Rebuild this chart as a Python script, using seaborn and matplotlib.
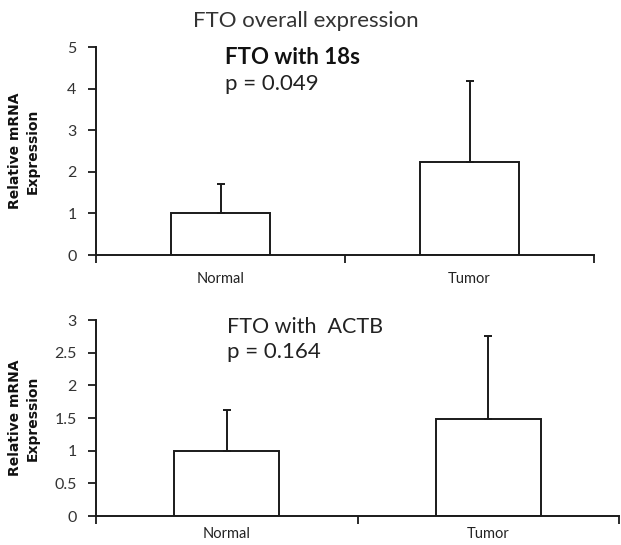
import matplotlib
matplotlib.use("Agg")
import matplotlib.pyplot as plt
import seaborn as sns
import numpy as np
import pandas as pd

# Data
categories = ["Normal", "Tumor"]
means_18s = [1.0, 2.25]
upper_18s = [1.70, 4.19]
means_actb = [1.0, 1.48]
upper_actb = [1.63, 2.76]

title_text = "FTO overall expression"
label_18s = "FTO with 18s"
p_18s = "p = 0.049"
label_actb = "FTO with  ACTB"
p_actb = "p = 0.164"
ylabel_text = "Relative mRNA\nExpression"

top_ticks = [0, 1, 2, 3, 4, 5]
bot_ticks = [0, 0.5, 1, 1.5, 2, 2.5, 3]
bot_ticklabels = ["0", "0.5", "1", "1.5", "2", "2.5", "3"]

sns.set_style("ticks")
plt.rcParams['font.family'] = ['Lato', 'DejaVu Sans']

W, H = 621, 545
fig = plt.figure(figsize=(W / 100, H / 100), dpi=100)

def px_axes(l, r, t, b):
    return fig.add_axes([l / W, 1 - b / H, (r - l) / W, (b - t) / H])

ax1 = px_axes(96, 594, 47.3, 255)
ax2 = px_axes(96, 619, 320, 516)

def draw(ax, means, upper, yticks, yticklabels, ymax, left_px, right_px, xpad):
    df = pd.DataFrame({"cat": categories, "val": means})
    sns.barplot(data=df, x="cat", y="val", ax=ax, color="white",
                edgecolor="#1a1a1a", linewidth=1.4, width=0.4,
                errorbar=None, saturation=1)
    err = np.array(upper) - np.array(means)
    ax.errorbar(np.arange(len(categories)), means,
                yerr=[np.zeros_like(err), err], fmt="none",
                ecolor="#1a1a1a", elinewidth=1.4, capsize=3, capthick=1.4)
    ax.set_xlim(-0.5, 1.5)
    ax.set_ylim(0, ymax)
    ax.set_yticks(yticks)
    ax.set_yticklabels(yticklabels)
    ax.set_xticks([0, 1])
    ax.set_xticklabels(categories)
    ax.set_xticks([-0.5, 0.5, 1.5], minor=True)
    ax.tick_params(axis="x", which="major", length=0, pad=xpad, labelsize=10.5,
                   labelcolor="#222222")
    ax.tick_params(axis="x", which="minor", length=6, width=1.3, color="#1a1a1a")
    ax.tick_params(axis="y", length=6, width=1.3, color="#1a1a1a", pad=8,
                   labelsize=11.5, labelcolor="#333333")
    for s in ["top", "right"]:
        ax.spines[s].set_visible(False)
    for s in ["left", "bottom"]:
        ax.spines[s].set_linewidth(1.4)
        ax.spines[s].set_color("#1a1a1a")
    ax.set_xlabel("")
    ax.set_ylabel(ylabel_text, fontsize=10, fontweight="bold",
                  linespacing=1.35, family=["DejaVu Sans"], color="#111111")
    ax.yaxis.set_label_coords((40 - left_px) / (right_px - left_px), 0.5)

draw(ax1, means_18s, upper_18s, top_ticks, [str(t) for t in top_ticks], 5, 96, 594, 12)
draw(ax2, means_actb, upper_actb, bot_ticks, bot_ticklabels, 3, 96, 619, 8)

fig.text(306 / W, 1 - 21 / H, title_text, ha="center", va="center",
         fontsize=16, color="#333333")
fig.text(225 / W, 1 - 58 / H, label_18s, ha="left", va="center",
         fontsize=16, fontweight="bold", color="#111111")
fig.text(225 / W, 1 - 84 / H, p_18s, ha="left", va="center",
         fontsize=16, color="#222222")
fig.text(227 / W, 1 - 327 / H, label_actb, ha="left", va="center",
         fontsize=15.5, color="#222222")
fig.text(227 / W, 1 - 352 / H, p_actb, ha="left", va="center",
         fontsize=16, color="#222222")

fig.savefig("out.png", dpi=100, facecolor="white")
